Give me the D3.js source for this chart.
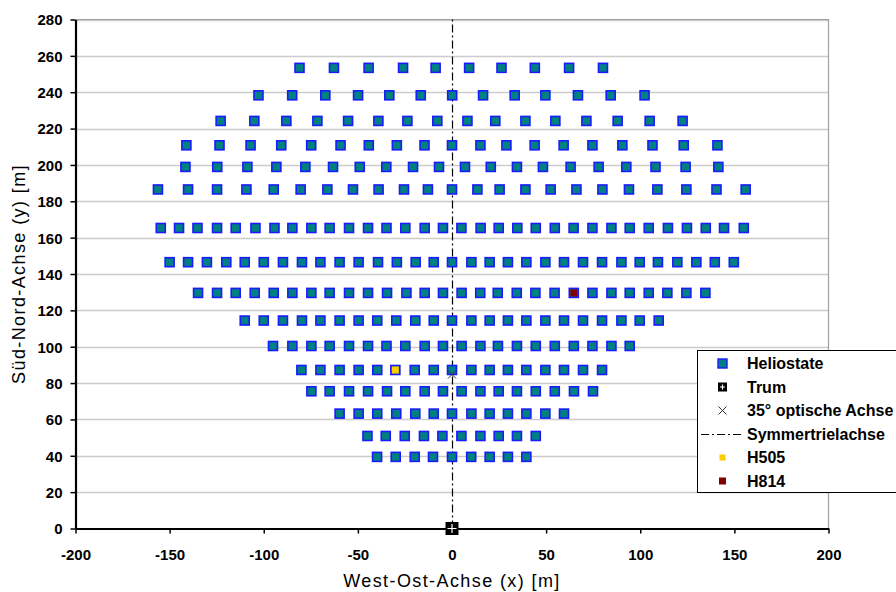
<!DOCTYPE html>
<html>
<head>
<meta charset="utf-8">
<script src="https://cdn.jsdelivr.net/npm/d3@7"></script>
<style>
  html, body { margin: 0; padding: 0; background: #fff; }
  svg { display: block; font-family: Arial, "Liberation Sans", sans-serif; }
</style>
</head>
<body>
<svg id="chart" width="896" height="592"></svg>
<script>
// Heliostat field layout: each row has a north coordinate (y) and the east positions (x) of its heliostats.
const rowY = [253.4, 238.3, 224.2, 210.8, 198.9, 186.5, 165.3, 146.5, 129.6, 114.4, 100.4, 87.2, 75.5, 63.2, 50.9, 39.4];
const rowX = [
  [-81, -62.7, -44.3, -26, -8.7, 9.1, 26.3, 44, 62.2, 80.2],
  [-102.8, -84.9, -67.3, -49.9, -33.3, -16.6, 0.1, 16.5, 33.3, 49.6, 66.9, 84.3, 102.3],
  [-122.9, -105, -88, -71.5, -55.2, -39.1, -23.7, -7.8, 8.2, 23, 39, 54.9, 71.4, 88, 105, 122.5],
  [-141.1, -123.5, -107, -90.7, -74.8, -59.2, -44.2, -29.3, -14.6, 0, 15.1, 28.9, 43.9, 59.3, 74.6, 90.5, 106.5, 123.1, 141],
  [-141.6, -124.7, -108.7, -93.3, -77.9, -63.2, -49, -34.9, -20.7, -6.9, 6.9, 20.6, 34.5, 48.3, 63, 77.9, 92.6, 108.1, 124.1, 141.5],
  [-156.2, -140.2, -124.8, -109.2, -94.7, -80.4, -66.2, -52.6, -39, -25.5, -12.8, 0, 13.5, 25.3, 39, 52.4, 66.1, 79.9, 94, 109.1, 124.5, 140.5, 156],
  [-154.7, -145, -135.2, -124.8, -114.9, -104.4, -94.3, -84.8, -74.7, -65, -54.7, -44.6, -34.8, -24.8, -14.5, -4.8, 5, 15.2, 24.8, 34.7, 44.5, 54.6, 64.6, 74.6, 84.7, 94.4, 104.5, 114.7, 124.8, 134.8, 144.5, 155],
  [-150, -140.2, -130.2, -119.9, -110.1, -100, -89.8, -79.7, -69.9, -59.7, -49.6, -39.3, -29.3, -19.3, -9.7, 0, 10.3, 20, 29.7, 39.5, 49.6, 59.5, 69.6, 79.7, 90, 99.7, 109.4, 119.7, 129.8, 139.6, 149.7],
  [-134.9, -124.8, -114.9, -104.8, -94.7, -84.8, -74.7, -65, -54.7, -44.6, -34.5, -24.2, -14.5, -4.8, 5.1, 15, 24.3, 34.4, 44.3, 54.5, 64.7, 74.6, 84.7, 94.4, 104.5, 114.4, 124.5, 134.6],
  [-110.1, -100, -89.8, -79.7, -69.9, -59.7, -49.6, -39.7, -29.6, -19.5, -9.7, 0, 10.3, 20, 29.7, 39.5, 49.6, 59.5, 69.6, 79.7, 90, 99.7, 109.8],
  [-95.1, -84.8, -74.7, -65, -54.7, -44.6, -34.8, -24.8, -14.5, -4.8, 5.1, 15.1, 24.4, 34.5, 44.5, 54.6, 64.7, 74.6, 84.7, 94.4],
  [-80, -69.9, -59.7, -49.6, -39.7, -30.1, -19.8, -9.7, 0, 10.3, 20, 29.7, 39.5, 49.6, 59.5, 69.6, 79.7],
  [-74.7, -65, -54.7, -44.6, -34.5, -24.8, -14.5, -4.8, 5.1, 15.1, 24.8, 34.5, 44.5, 54.6, 64.8, 74.9],
  [-59.7, -49.6, -39.7, -29.6, -19.5, -9.7, 0, 10.3, 20, 29.7, 39.5, 49.6, 59.5],
  [-44.9, -35.2, -25.1, -14.9, -5.1, 5, 15.1, 24.8, 34.5, 44.5],
  [-39.8, -29.9, -19.8, -10.1, 0, 10.2, 20, 29.7, 39.5]
];

// Special points
const tower = [0, 0];          // Trum
const opticalAxis = [0, 84.7]; // 35° optische Achse
const h505 = [-30.1, 87.2];
const h814 = [64.7, 129.6];

const xTicks = [-200, -150, -100, -50, 0, 50, 100, 150, 200];
const yTicks = [0, 20, 40, 60, 80, 100, 120, 140, 160, 180, 200, 220, 240, 260, 280];

const legendLabels = ["Heliostate", "Trum", "35° optische Achse", "Symmertrielachse", "H505", "H814"];

const svg = d3.select("#chart");
const plotL = 75.5, plotR = 828.5, plotT = 19.5, plotB = 528.5;

const x = d3.scaleLinear().domain([-200, 200]).range([plotL, plotR]);
const y = d3.scaleLinear().domain([0, 280]).range([plotB, plotT]);

// Gridlines
svg.append("g").selectAll("line").data(yTicks.filter(d => d > 0)).join("line")
  .attr("x1", plotL).attr("x2", plotR)
  .attr("y1", d => Math.round(y(d)) + 0.5).attr("y2", d => Math.round(y(d)) + 0.5)
  .attr("stroke", "#cccccc").attr("stroke-width", 1.5);

// Plot area frame (top and right)
svg.append("path")
  .attr("d", `M${plotL},${plotT}H${plotR}V${plotB}`)
  .attr("fill", "none").attr("stroke", "#a0a0a0").attr("stroke-width", 1.2);

// Symmetry axis (half-pixel offset keeps the 1px dash-dot line crisp)
svg.append("line")
  .attr("x1", x(0) + 0.5).attr("x2", x(0) + 0.5).attr("y1", y(0)).attr("y2", y(280))
  .attr("stroke", "#000").attr("stroke-width", 1.2)
  .attr("stroke-dasharray", "8,3,2,3");

// Axes (plain hyphen for negative numbers)
const fmt = d => String(d);
const xAxis = svg.append("g").attr("transform", `translate(0,${plotB})`)
  .call(d3.axisBottom(x).tickValues(xTicks).tickSize(5).tickSizeOuter(0).tickFormat(fmt));
const yAxis = svg.append("g").attr("transform", `translate(${plotL},0)`)
  .call(d3.axisLeft(y).tickValues(yTicks).tickSize(5).tickSizeOuter(0).tickFormat(fmt));

[xAxis, yAxis].forEach(g => {
  g.select(".domain").attr("stroke", "#000").attr("stroke-width", 2.2);
  g.selectAll(".tick line").attr("stroke", "#000").attr("stroke-width", 1.5);
  g.selectAll(".tick text").attr("fill", "#000")
    .style("font-family", "Arial, 'Liberation Sans', sans-serif")
    .style("font-size", "15px").style("font-weight", "bold");
});
xAxis.selectAll(".tick text").attr("y", 31).attr("dy", 0);
yAxis.selectAll(".tick text").attr("x", -13).attr("dy", "0.36em");

// Axis titles
svg.append("text").attr("x", (plotL + plotR) / 2).attr("y", 587)
  .attr("text-anchor", "middle").attr("font-size", 18).attr("letter-spacing", 1.4)
  .text("West-Ost-Achse (x) [m]");
svg.append("text").attr("transform", `translate(25,${(plotT + plotB) / 2}) rotate(-90)`)
  .attr("text-anchor", "middle").attr("font-size", 18).attr("letter-spacing", 1.4)
  .text("Süd-Nord-Achse (y) [m]");

// Heliostats
const heliostats = rowY.flatMap((yy, i) => rowX[i].map(xx => [xx, yy]));
const hs = 9;
svg.append("g").selectAll("rect").data(heliostats).join("rect")
  .attr("x", d => x(d[0]) - hs / 2).attr("y", d => y(d[1]) - hs / 2)
  .attr("width", hs).attr("height", hs)
  .attr("fill", "#008080").attr("stroke", "#1a1aff").attr("stroke-width", 1.6);

// Highlighted heliostats
svg.append("rect").attr("x", x(h505[0]) - 3.5).attr("y", y(h505[1]) - 3.5)
  .attr("width", 7).attr("height", 7).attr("fill", "#ffcc00");
svg.append("rect").attr("x", x(h814[0]) - 3.5).attr("y", y(h814[1]) - 3.5)
  .attr("width", 7).attr("height", 7).attr("fill", "#800000");

// Optical axis marker
function cross(g, cx, cy, r, color, w) {
  g.append("path").attr("d", `M${cx - r},${cy - r}L${cx + r},${cy + r}M${cx - r},${cy + r}L${cx + r},${cy - r}`)
    .attr("stroke", color).attr("stroke-width", w).attr("fill", "none");
}
cross(svg, x(opticalAxis[0]), y(opticalAxis[1]), 4, "#333", 1);

// Tower
function towerIcon(g, cx, cy, s) {
  g.append("rect").attr("x", cx - s / 2).attr("y", cy - s / 2).attr("width", s).attr("height", s).attr("fill", "#000");
  g.append("path").attr("d", `M${cx},${cy - s / 2 + 2}V${cy + s / 2 - 2}M${cx - s / 2 + 2},${cy}H${cx + s / 2 - 2}`)
    .attr("stroke", "#fff").attr("stroke-width", 1.2);
}
towerIcon(svg, x(tower[0]), y(tower[1]), 13);

// Legend
const lg = svg.append("g");
lg.append("rect").attr("x", 697.5).attr("y", 350.5).attr("width", 260).attr("height", 142)
  .attr("fill", "#fff").attr("stroke", "#000").attr("stroke-width", 1);
const ly0 = 363.5, ldy = 23.5, sx = 722.5, tx = 747;
legendLabels.forEach((label, i) => {
  lg.append("text").attr("x", tx).attr("y", ly0 + i * ldy).attr("dy", "0.36em")
    .attr("font-size", 16).attr("font-weight", "bold").text(label);
});
lg.append("rect").attr("x", sx - 4.5).attr("y", ly0 - 4.5).attr("width", 9).attr("height", 9)
  .attr("fill", "#008080").attr("stroke", "#1a1aff").attr("stroke-width", 1.4);
towerIcon(lg, sx, ly0 + ldy, 9);
cross(lg, sx, ly0 + 2 * ldy, 4, "#333", 1);
lg.append("line").attr("x1", 701).attr("x2", 743).attr("y1", ly0 + 3 * ldy + 0.5).attr("y2", ly0 + 3 * ldy + 0.5)
  .attr("stroke", "#000").attr("stroke-width", 1.2).attr("stroke-dasharray", "8,3,2,3");
lg.append("rect").attr("x", sx - 3).attr("y", ly0 + 4 * ldy - 3).attr("width", 6).attr("height", 6).attr("fill", "#ffcc00");
lg.append("rect").attr("x", sx - 3.5).attr("y", ly0 + 5 * ldy - 3.5).attr("width", 7).attr("height", 7).attr("fill", "#800000");
</script>
</body>
</html>
